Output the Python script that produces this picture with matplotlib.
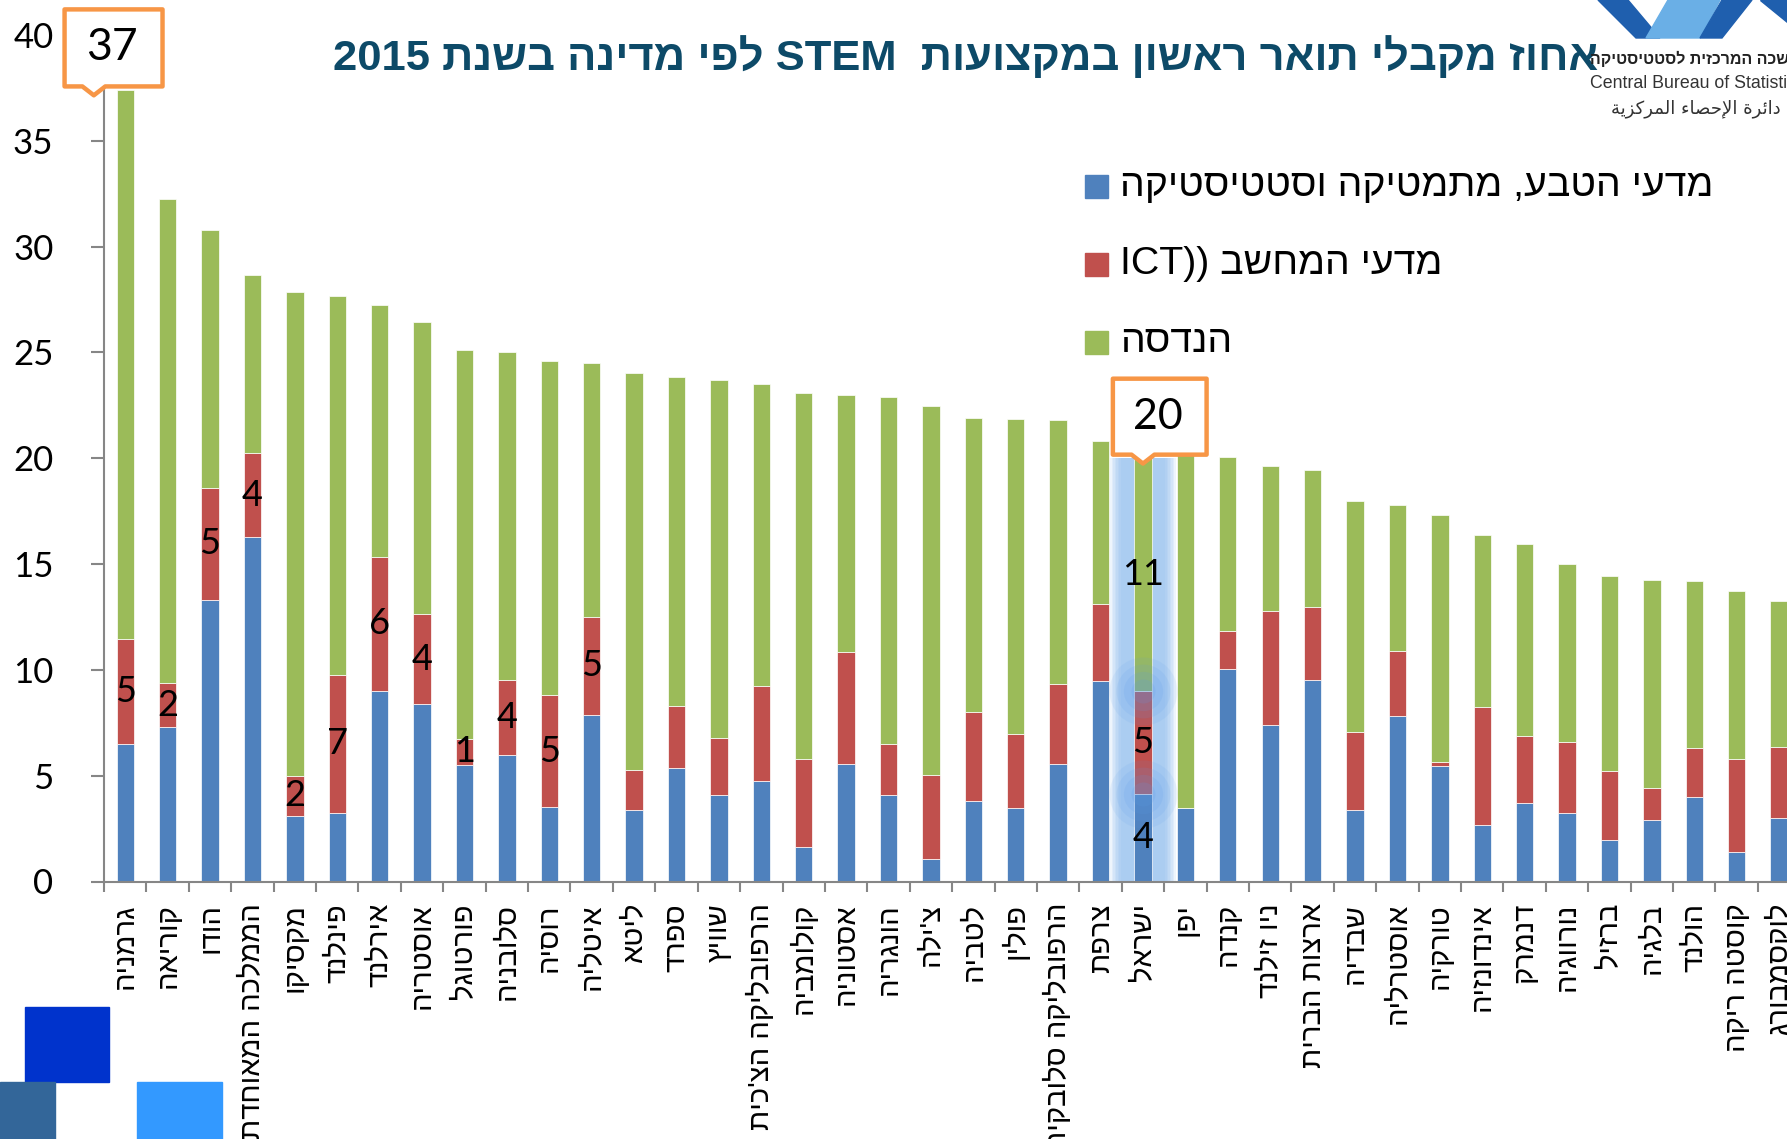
import re
import numpy as np
import matplotlib
matplotlib.use('Agg')
import matplotlib.pyplot as plt
from matplotlib.patches import Polygon, Rectangle

W, H, DPI = 1787, 1139, 100

# --- data (percent of first-degree graduates, 2015) ---
countries = ['גרמניה', 'קוריאה', 'הודו', 'הממלכה המאוחדת', 'מקסיקו', 'פינלנד', 'אירלנד', 'אוסטריה',
             'פורטוגל', 'סלובניה', 'רוסיה', 'איטליה', 'ליטא', 'ספרד', 'שוויץ', "הרפובליקה הצ'כית",
             'קולומביה', 'אסטוניה', 'הונגריה', "צ'ילה", 'לטביה', 'פולין', 'הרפובליקה סלובקית', 'צרפת',
             'ישראל', 'יפן', 'קנדה', 'ניו זילנד', 'ארצות הברית', 'שבדיה', 'אוסטרליה', 'טורקיה',
             'אינדונזיה', 'דנמרק', 'נורווגיה', 'ברזיל', 'בלגיה', 'הולנד', 'קוסטה ריקה', 'לוקסמבורג']
sci = [6.49, 7.28, 13.30, 16.29, 3.09, 3.24, 9.02, 8.38, 5.50, 5.98, 3.51, 7.88, 3.40, 5.37, 4.09, 4.75,
       1.62, 5.56, 4.11, 1.08, 3.80, 3.46, 5.54, 9.46, 4.15, 3.46, 10.02, 7.41, 9.54, 3.38, 7.84, 5.46,
       2.68, 3.69, 3.24, 1.97, 2.90, 4.00, 1.39, 3.01]
ict = [4.96, 2.12, 5.31, 3.94, 1.91, 6.53, 6.31, 4.25, 1.24, 3.54, 5.31, 4.63, 1.89, 2.93, 2.67, 4.48,
       4.15, 5.27, 2.40, 3.94, 4.23, 3.53, 3.80, 3.63, 4.85, 0.00, 1.81, 5.35, 3.41, 3.67, 3.07, 0.20,
       5.56, 3.20, 3.36, 3.24, 1.52, 2.29, 4.40, 3.34]
eng = [25.95, 22.85, 12.16, 8.44, 22.86, 17.89, 11.93, 13.80, 18.36, 15.48, 15.77, 12.01, 18.73, 15.52,
       16.93, 14.28, 17.30, 12.18, 16.39, 17.43, 13.86, 14.86, 12.46, 7.72, 11.00, 16.74, 8.21, 6.87,
       6.49, 10.92, 6.89, 11.64, 8.13, 9.04, 8.42, 9.23, 9.85, 7.90, 7.92, 6.89]
series_names = ['מדעי הטבע, מתמטיקה וסטטיסטיקה', 'מדעי המחשב ((ICT', 'הנדסה']
ict_labelled = list(range(12))      # bars whose ICT value is printed
highlight = 'ישראל'
title = 'אחוז מקבלי תואר ראשון במקצועות  STEM לפי מדינה בשנת 2015'

colors = ['#4F81BD', '#C0504D', '#9BBB59']
ORANGE = '#F79646'
GRAY = '#868686'
HEB = ['Liberation Sans', 'DejaVu Sans']
NUM = ['Lato', 'DejaVu Sans']


def rtl(s):
    # visual order for a right-to-left line (matplotlib has no bidi)
    r = s[::-1]
    r = re.sub(r'[A-Za-z0-9]+', lambda m: m.group(0)[::-1], r)
    return r.translate(str.maketrans('()', ')('))


def fx(px): return px / W
def fy(py): return 1 - py / H


sci, ict, eng = map(np.array, (sci, ict, eng))
x = np.arange(len(countries))
tot = sci + ict + eng

fig = plt.figure(figsize=(W / DPI, H / DPI), dpi=DPI)
ax = fig.add_axes([fx(104), fy(881.5), (1800.3 - 104) / W, (881.5 - 35) / H])

# highlight glow behind Israel
hi = countries.index(highlight)
for k in range(8):
    ax.bar(hi, tot[hi], width=1.55 - k * 0.07, color='#8DBBEE', alpha=0.14, zorder=1, linewidth=0)

bw = 0.41
ax.bar(x, sci, bw, color=colors[0], edgecolor='white', linewidth=0.5, zorder=2)
ax.bar(x, ict, bw, bottom=sci, color=colors[1], edgecolor='white', linewidth=0.5, zorder=2)
ax.bar(x, eng, bw, bottom=sci + ict, color=colors[2], edgecolor='white', linewidth=0.5, zorder=2)

# soft blobs on the Israel segment borders
for yb in [sci[hi], sci[hi] + ict[hi]]:
    for s, a in [(2400, 0.10), (1500, 0.12), (800, 0.14), (300, 0.16)]:
        ax.scatter(hi, yb, s=s, color='#5B9BE8', alpha=a, linewidths=0, zorder=3)

for i in ict_labelled:
    ax.text(i, sci[i] + ict[i] / 2, f'{ict[i]:.0f}', ha='center', va='center', fontsize=26,
            family=NUM, zorder=4)
for v, b in [(sci[hi], 0), (ict[hi], sci[hi]), (eng[hi], sci[hi] + ict[hi])]:
    ax.text(hi, b + v / 2, f'{v:.0f}', ha='center', va='center', fontsize=26, family=NUM, zorder=4)


def callout(i, left, right, tip_dx, height, txt, fs):
    tx, ty = i + tip_dx, tot[i] - 0.25
    y0 = ty + 0.42
    pts = [(tx + left, y0), (tx - 0.27, y0), (tx, ty), (tx + 0.27, y0), (tx + right, y0),
           (tx + right, y0 + height), (tx + left, y0 + height)]
    ax.add_patch(Polygon(pts, closed=True, fc='white', ec=ORANGE, lw=3.2, joinstyle='round',
                         clip_on=False, zorder=6))
    ax.text(tx + (left + right) / 2 - 0.05, y0 + height / 2, txt, ha='center', va='center',
            fontsize=fs, family=NUM, zorder=7, clip_on=False)


callout(0, -0.69, 1.62, -0.74, 3.64, f'{tot[0]:.0f}', 32)
callout(hi, -0.71, 1.5, 0.0, 3.59, f'{tot[hi]:.0f}', 31)

ax.set_xlim(-0.5, len(countries) - 0.5)
ax.set_ylim(0, 40)
ax.set_yticks(range(0, 41, 5))
ax.set_xticks(x)
ax.set_xticklabels([rtl(c) for c in countries], rotation=90, fontsize=21, family=HEB)
ax.set_xticks(np.arange(-0.5, len(countries), 1), minor=True)
ax.tick_params(axis='x', which='major', length=0, pad=15.5)
ax.tick_params(axis='x', which='minor', length=7.5, width=1.5, color=GRAY)
ax.tick_params(axis='y', length=9.4, width=1.5, color=GRAY, labelsize=25, pad=27)
for t in ax.get_yticklabels():
    t.set_family(NUM)
for sp in ['top', 'right']:
    ax.spines[sp].set_visible(False)
for sp in ['left', 'bottom']:
    ax.spines[sp].set_color(GRAY)
    ax.spines[sp].set_linewidth(1.5)

# title
fig.text(fx(1598), fy(58), rtl(title), ha='right', va='center', fontsize=31.3, weight='bold',
         color='#0D4A68', family=HEB)

# legend
for k, (nm, c) in enumerate(zip(series_names, colors)):
    yc = [186, 264, 342][k]
    fig.patches.append(Rectangle((fx(1085), fy(yc + 11.5)), 23 / W, 23 / H, transform=fig.transFigure,
                                 color=c, figure=fig))
    fig.text(fx(1120), fy(yc), rtl(nm), ha='left', va='center', fontsize=28.3, family=HEB)

# decorative squares, bottom left
for (x0, y0, x1, y1, c) in [(25, 1007, 109, 1082, '#0033CC'), (0, 1082, 55, 1139, '#336699'),
                            (137, 1082, 222, 1139, '#3399FF')]:
    fig.patches.append(Rectangle((fx(x0), fy(y1)), (x1 - x0) / W, (y1 - y0) / H,
                                 transform=fig.transFigure, color=c, figure=fig))

# CBS logo, top right
for pts, c in [([(1598, 0), (1628, 0), (1660, 38), (1636, 38)], '#1F5FAE'),
               ([(1646, 38), (1668, 0), (1720, 0), (1700, 38)], '#6AAFE6'),
               ([(1722, 0), (1752, 0), (1722, 38), (1700, 38)], '#1F5FAE'),
               ([(1760, 0), (1787, 0), (1787, 22)], '#1F5FAE')]:
    fig.patches.append(Polygon([(fx(a), fy(b)) for a, b in pts], closed=True, transform=fig.transFigure,
                               color=c, figure=fig))
fig.text(fx(1590), fy(59), rtl('הלשכה המרכזית לסטטיסטיקה'), ha='left', va='center', fontsize=11.5,
         weight='bold', family=HEB, color='#222222')
fig.text(fx(1590), fy(83), 'Central Bureau of Statistics', ha='left', va='center', fontsize=12.8,
         family=HEB, color='#333333')
fig.text(fx(1781), fy(109), 'ﺔﻳﺰﻛﺮﻤﻟﺍ ءﺎﺼﺣﻹﺍ ﺓﺮﺋﺍﺩ', ha='right', va='center', fontsize=13,
         family=['DejaVu Sans'], color='#333333')

fig.savefig('out.png', dpi=DPI)
